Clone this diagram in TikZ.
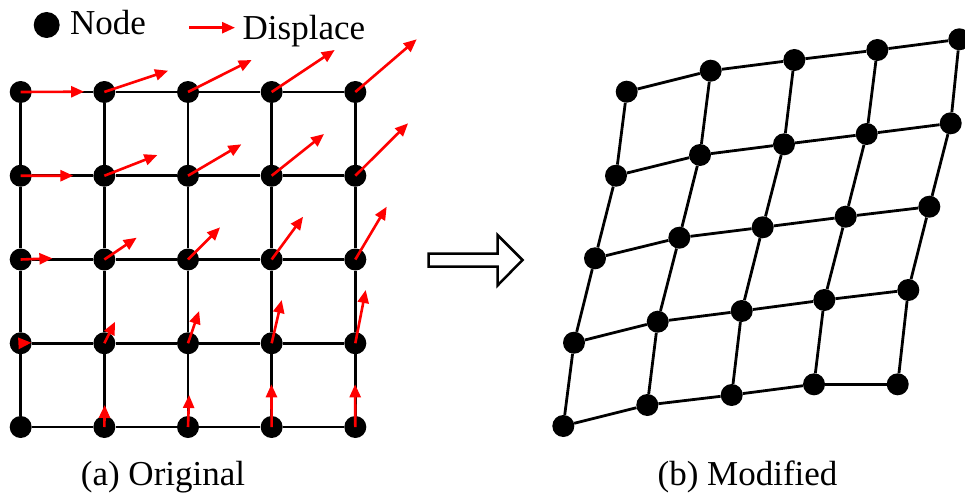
\documentclass[tikz,border=0pt]{standalone}
\usepackage{fontspec}
\setmainfont{Liberation Serif}
\usetikzlibrary{arrows.meta,calc,positioning}

\begin{document}
\begin{tikzpicture}[x=1pt, y=-1pt, font=\fontsize{35}{40}\selectfont,
    dot/.style={circle, fill=black, inner sep=0pt, minimum size=22pt},
    link/.style={line width=2.8pt, black},
    disp/.style={red, line width=2.6pt, -{Triangle[length=13pt, width=11pt]}},
    txt/.style={inner sep=0pt, anchor=base west}]
        \useasboundingbox (0,0) rectangle (965,495);

        % Original grid (left), 5x5 nodes
        \foreach \j in {1,...,5}
            \foreach \i in {1,...,5}
                \node[dot] (o-\i-\j) at ({20.7+83.65*(\i-1)}, {92+83.75*(\j-1)}) {};

        % Modified grid (right), one row per line
        \foreach \x/\y [count=\i] in {626.7/91.7, 710.7/70.7, 794.3/60, 877.3/50, 959.3/39.3}
            \node[dot] (m-\i-1) at (\x,\y) {};
        \foreach \x/\y [count=\i] in {616/175.7, 700/155, 784/144.3, 866.7/134, 950.7/123.3}
            \node[dot] (m-\i-2) at (\x,\y) {};
        \foreach \x/\y [count=\i] in {595/258.3, 679.3/237.7, 762.7/227.3, 845.7/216.7, 929.3/206.7}
            \node[dot] (m-\i-3) at (\x,\y) {};
        \foreach \x/\y [count=\i] in {574/342.7, 657.7/321.7, 741.7/311, 824.3/300, 908.3/290}
            \node[dot] (m-\i-4) at (\x,\y) {};
        \foreach \x/\y [count=\i] in {563.3/426, 647.3/405, 731.7/395, 814/384.3, 897.7/384.3}
            \node[dot] (m-\i-5) at (\x,\y) {};

        % Links of both grids
        \foreach \g in {o,m} {
            \foreach \j in {1,...,5} {
                \foreach \i [evaluate=\i as \n using int(\i+1)] in {1,...,4} {
                    \draw[link] (\g-\i-\j) -- (\g-\n-\j);
                    \draw[link] (\g-\j-\i) -- (\g-\j-\n);
                }
            }
        }

        % Displacements: where each node goes in the modified grid
        \foreach \j in {1,...,5} {
            \foreach \i in {1,...,5} {
                \coordinate (d-\i-\j) at ($(m-\i-\j)-(542.6,0)$);
                \ifnum\i\j=15 \else
                    \draw[disp] (o-\i-\j.center) -- (d-\i-\j);
                \fi
            }
        }

        % Big hollow arrow between the grids
        \draw[line width=2.5pt, line join=miter] (428.5,253.5) -- (497.5,253.5) -- (497.5,235)
            -- (522.5,260) -- (497.5,285.5) -- (497.5,266.5) -- (428.5,266.5) -- cycle;

        % Legend
        \node[dot, minimum size=26pt] (key-dot) at (46.7,25) {};
        \node[txt] (key-node) at (70,34.3) {Node};
        \coordinate (key-a) at (189,27.7);
        \coordinate (key-b) at (235,27.7);
        \draw[disp] (key-a) -- (key-b);
        \node[txt] (key-disp) at (242.5,39.3) {Displace};

        % Captions
        \node[inner sep=0pt, anchor=base] (cap-a) at (163,485.7) {(a) Original};
        \node[inner sep=0pt, anchor=base] (cap-b) at (747.5,485.7) {(b) Modified};
    \end{tikzpicture}
\end{document}
